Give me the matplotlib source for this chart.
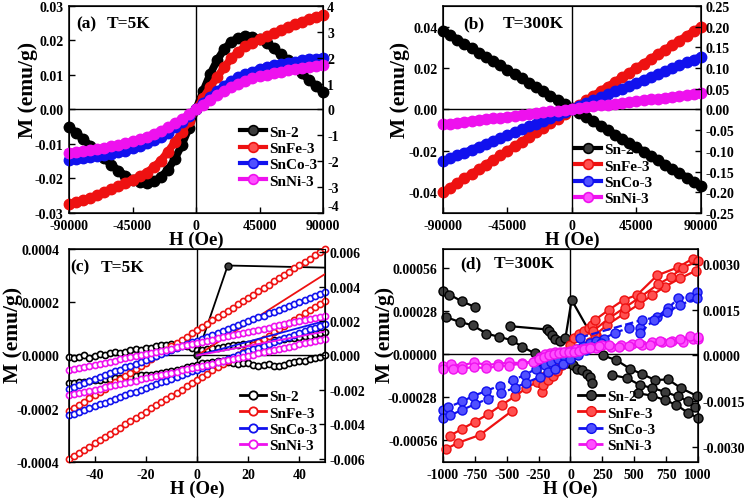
import numpy as np
import matplotlib.pyplot as plt
from matplotlib.lines import Line2D

plt.rcParams['font.family'] = ['Liberation Serif', 'DejaVu Serif']
plt.rcParams['font.weight'] = 'bold'
plt.rcParams['axes.unicode_minus'] = False

names = ['Sn-2', 'SnFe-3', 'SnCo-3', 'SnNi-3']
colors = ['#000000', '#ee1111', '#1111ee', '#ee11ee']
faces = ['#3c3c3c', '#ff5050', '#5050ff', '#ff50ff']

# (a) T=5K, M in 1e-3 emu/g, one value every 5000 Oe from -90000 to 90000
a_black = [-5.0, -6.8, -8.6, -10.5, -12.3, -14.2, -16.0, -17.7, -19.2, -20.3, -21.0, -21.2,
           -20.8, -19.6, -17.5, -14.3, -10.2, -5.3, 0.0, 5.3, 10.2, 14.3, 17.5, 19.6, 20.8,
           21.2, 21.0, 20.3, 19.2, 17.7, 16.0, 14.2, 12.3, 10.5, 8.6, 6.8, 5.0]
a_red = [-27.5, -26.9, -26.3, -25.6, -24.8, -24.0, -23.1, -22.2, -21.2, -20.3, -19.4, -18.3,
         -16.7, -14.8, -12.3, -9.4, -6.5, -3.3, 0.0, 3.3, 6.5, 9.4, 12.3, 14.8, 16.7, 18.3,
         19.4, 20.3, 21.2, 22.1, 23.0, 23.9, 24.7, 25.5, 26.2, 26.8, 27.4]
a_blue = [-14.6, -14.4, -14.2, -13.9, -13.6, -13.3, -12.9, -12.4, -11.9, -11.3, -10.6, -9.8,
          -8.9, -7.9, -6.7, -5.2, -3.6, -1.8, 0.0, 1.8, 3.6, 5.3, 6.8, 8.2, 9.3, 10.2, 11.0,
          11.7, 12.3, 12.8, 13.2, 13.6, 13.9, 14.2, 14.5, 14.7, 14.9]
a_mag = [-12.5, -12.3, -12.1, -11.8, -11.5, -11.1, -10.7, -10.3, -9.8, -9.2, -8.6, -7.9,
         -7.1, -6.2, -5.2, -4.0, -2.8, -1.4, 0.0, 1.4, 2.8, 4.1, 5.4, 6.5, 7.5, 8.3, 9.0,
         9.6, 10.1, 10.6, 11.0, 11.4, 11.8, 12.1, 12.4, 12.6, 12.8]

# (b) T=300K, same field steps
b_black = [38.0, 35.9, 33.8, 31.7, 29.6, 27.5, 25.4, 23.3, 21.3, 19.2, 17.1, 15.0, 12.9,
           10.8, 8.7, 6.7, 4.6, 2.5, 0.5, -1.6, -3.7, -5.8, -7.9, -10.0, -12.1, -14.1,
           -16.2, -18.3, -20.4, -22.5, -24.6, -26.7, -28.8, -30.8, -32.9, -35.0, -37.0]
b_red = [-40.0, -37.8, -35.6, -33.3, -31.1, -28.9, -26.7, -24.4, -22.2, -20.0, -17.8, -15.6,
         -13.3, -11.1, -8.9, -6.7, -4.4, -2.2, 0.0, 2.2, 4.4, 6.7, 8.9, 11.1, 13.3, 15.6,
         17.8, 20.0, 22.2, 24.4, 26.7, 28.9, 31.1, 33.3, 35.6, 37.8, 40.0]
b_blue = [-25.0, -23.6, -22.2, -20.8, -19.4, -18.0, -16.6, -15.2, -13.8, -12.4, -11.0, -9.6,
          -8.2, -6.8, -5.4, -4.0, -2.6, -1.2, 0.3, 1.7, 3.1, 4.5, 5.9, 7.3, 8.7, 10.1, 11.5,
          12.9, 14.3, 15.7, 17.1, 18.5, 19.9, 21.3, 22.7, 24.1, 25.5]
b_mag = [-7.2, -6.8, -6.4, -5.95, -5.5, -5.1, -4.7, -4.3, -3.9, -3.45, -3.0, -2.6, -2.2, -1.8,
         -1.4, -0.95, -0.5, -0.1, 0.3, 0.7, 1.1, 1.55, 2.0, 2.4, 2.8, 3.2, 3.6, 4.05, 4.5,
         4.9, 5.3, 5.7, 6.1, 6.55, 7.0, 7.4, 7.8]

# (c) T=5K low field loops, M in 1e-4 emu/g, one value every 2 Oe from -50 to 50
c_black_dn = [-0.05, -0.1, -0.05, 0.0, -0.08, -0.02, 0.05, 0.0, 0.1, 0.15, 0.1, 0.12, 0.2,
              0.25, 0.2, 0.3, 0.3, 0.35, 0.4, 0.38, 0.42, 0.4, 0.45, 0.35, 0.3, 0.2, 0.22,
              0.25, 0.28, 0.3, 0.33, 0.35, 0.38, 0.4, 0.42, 0.45, 0.47, 0.5, 0.52, 0.55,
              0.57, 0.6, 0.62, 0.65, 0.67, 0.7, 0.72, 0.75, 0.8, 0.85, 0.9]
c_black_up = [-1.04, -1.02, -1.0, -0.98, -0.96, -0.93, -0.92, -0.9, -0.88, -0.85, -0.83, -0.82,
              -0.8, -0.77, -0.75, -0.74, -0.72, -0.69, -0.66, -0.62, -0.58, -0.54, -0.5,
              -0.45, -0.4, -0.35, -0.3, -0.28, -0.25, -0.22, -0.2, -0.25, -0.3, -0.32, -0.28,
              -0.3, -0.35, -0.38, -0.35, -0.32, -0.38, -0.4, -0.35, -0.3, -0.25, -0.2, -0.22,
              -0.15, -0.1, -0.05, 0.0]
c_red_dn = [-2.10, -1.98, -1.86, -1.73, -1.61, -1.49, -1.37, -1.25, -1.12, -1.00, -0.88, -0.76,
            -0.64, -0.51, -0.39, -0.27, -0.15, -0.03, 0.10, 0.22, 0.34, 0.46, 0.58, 0.71, 0.83,
            0.95, 1.07, 1.19, 1.32, 1.44, 1.56, 1.68, 1.80, 1.93, 2.05, 2.17, 2.29, 2.41, 2.54,
            2.66, 2.78, 2.90, 3.02, 3.15, 3.27, 3.39, 3.51, 3.63, 3.76, 3.88, 4.00]
c_red_up = [-3.90, -3.78, -3.66, -3.54, -3.42, -3.30, -3.18, -3.07, -2.95, -2.83, -2.71, -2.59,
            -2.47, -2.35, -2.23, -2.11, -1.99, -1.87, -1.75, -1.64, -1.52, -1.40, -1.28, -1.16,
            -1.04, -0.92, -0.80, -0.68, -0.56, -0.44, -0.32, -0.21, -0.09, 0.03, 0.15, 0.27,
            0.39, 0.51, 0.63, 0.75, 0.87, 0.99, 1.11, 1.22, 1.34, 1.46, 1.58, 1.70, 1.82, 1.94,
            2.06]
c_blue_dn = [-1.25, -1.18, -1.11, -1.03, -0.96, -0.89, -0.82, -0.74, -0.67, -0.60, -0.53, -0.45,
             -0.38, -0.31, -0.24, -0.16, -0.09, -0.02, 0.05, 0.13, 0.20, 0.27, 0.34, 0.42, 0.49,
             0.56, 0.63, 0.71, 0.78, 0.85, 0.92, 1.00, 1.07, 1.14, 1.21, 1.29, 1.36, 1.43, 1.50,
             1.58, 1.65, 1.72, 1.79, 1.87, 1.94, 2.01, 2.08, 2.16, 2.23, 2.30, 2.37]
c_blue_up = [-2.25, -2.18, -2.11, -2.04, -1.97, -1.91, -1.84, -1.77, -1.70, -1.63, -1.56, -1.49,
             -1.42, -1.36, -1.29, -1.22, -1.15, -1.08, -1.01, -0.94, -0.87, -0.81, -0.74, -0.67,
             -0.60, -0.53, -0.46, -0.39, -0.32, -0.26, -0.19, -0.12, -0.05, 0.02, 0.09, 0.16,
             0.23, 0.29, 0.36, 0.43, 0.50, 0.57, 0.64, 0.71, 0.78, 0.84, 0.91, 0.98, 1.05, 1.12,
             1.19]
c_mag_dn = [-0.56, -0.52, -0.48, -0.44, -0.40, -0.35, -0.31, -0.27, -0.23, -0.19, -0.15, -0.11,
            -0.07, -0.02, 0.02, 0.06, 0.10, 0.14, 0.18, 0.22, 0.26, 0.31, 0.35, 0.39, 0.43, 0.47,
            0.51, 0.55, 0.59, 0.64, 0.68, 0.72, 0.76, 0.80, 0.84, 0.88, 0.92, 0.97, 1.01, 1.05,
            1.09, 1.13, 1.17, 1.21, 1.25, 1.30, 1.34, 1.38, 1.42, 1.46, 1.50]
c_mag_up = [-1.50, -1.46, -1.41, -1.37, -1.33, -1.29, -1.24, -1.20, -1.16, -1.12, -1.07, -1.03,
            -0.99, -0.95, -0.90, -0.86, -0.82, -0.78, -0.73, -0.69, -0.65, -0.61, -0.56, -0.52,
            -0.48, -0.44, -0.39, -0.35, -0.31, -0.26, -0.22, -0.18, -0.14, -0.09, -0.05, -0.01,
            0.03, 0.08, 0.12, 0.16, 0.20, 0.25, 0.29, 0.33, 0.37, 0.42, 0.46, 0.50, 0.54, 0.59,
            0.63]
# virgin curves (0 -> 50 Oe)
c_virgin_H = [[0, 12, 50], [0, 50], [0, 50], [0, 50]]
c_virgin_M = [[0.0, 3.38, 3.3], [0.0, 3.06], [0.0, 1.3], [0.0, 0.9]]

# (d) T=300K, +-1000 Oe, M in 1e-4 emu/g, measured pieces
d_H_black = [[-1000, -950, -850, -750],
             [-975, -870, -765, -660, -560, -460, -380, -280, -240, -232],
             [-475, -187, -165, -147, -120, -84, -39, 9, 255, 360, 465, 560, 665, 765, 870, 990],
             [-60, -30, 0, 22, 52, 91, 130, 157, 170],
             [323, 440, 545, 640, 740, 840, 920, 975],
             [530, 640, 745, 830, 920, 1000]]
d_M_black = [[4.05, 3.85, 3.4, 3.05],
             [2.38, 2.08, 1.85, 1.32, 1.11, 0.89, 0.47, 0.04, -0.2, -1.9],
             [1.8, 1.59, 1.5, 1.23, 0.95, 0.85, 1.06, 3.5, -0.1, -0.4, -0.95, -1.3, -1.69, -1.65, -2.23, -2.71],
             [-0.5, -0.6, -0.4, -0.74, -0.95, -1.06, -1.27, -1.48, -1.91],
             [-1.37, -1.55, -2.01, -2.2, -2.45, -2.75, -3.05, -3.45],
             [-2.55, -2.7, -3.0, -3.3, -3.8, -4.15]]
d_H_red = [[-975, -880, -710, -460],
           [-945, -850, -750, -645, -540, -435, -345, -260, -200, -150, -100, -50, 0, 50, 100, 150, 200],
           [-226, -213, -175, -140, -105, -70, -35, 0, 25, 64, 104, 143, 169, 194, 300, 416, 522, 680, 846, 960],
           [190, 290, 420, 540, 640, 738, 860, 982],
           [180, 300, 425, 550, 686, 790, 882, 1000]]
d_M_red = [[-6.15, -5.75, -5.25, -3.7],
           [-5.3, -4.85, -4.4, -3.9, -3.3, -2.75, -2.2, -1.8, -1.45, -1.15, -0.85, -0.55, -0.25, 0.1, 0.45, 0.8, 1.2],
           [-2.45, -2.0, -1.7, -1.4, -1.1, -0.7, -0.3, 0.6, 1.06, 1.27, 1.48, 1.69, 1.9, 2.22, 2.85, 3.5, 3.82, 5.09, 5.62, 6.18],
           [1.2, 1.9, 2.6, 3.23, 3.8, 4.35, 4.9, 5.39],
           [1.5, 2.3, 3.0, 3.7, 4.5, 5.0, 5.6, 6.0]]
d_H_blue = [[-1000, -960, -850, -765, -665, -555, -450, -360, -268, -200, -150, -100, -50, 0, 50, 100,
             150, 200, 260, 353, 458, 549],
            [-1000, -943, -850, -752, -647, -542, -438, -345, -242, -180, -120, -60, 0, 60, 120, 180, 240],
            [74, 560, 675, 767, 845, 936, 990],
            [549, 653, 761, 858, 990]]
d_M_blue = [[-3.6, -3.45, -3.08, -2.73, -2.41, -2.05, -1.72, -1.35, -0.97, -0.72, -0.52, -0.32, -0.12,
             0.1, 0.3, 0.5, 0.7, 0.85, 1.0, 1.38, 1.69, 1.69],
            [-4.15, -3.98, -3.62, -3.27, -2.9, -2.52, -2.2, -1.85, -1.5, -1.2, -0.95, -0.65, -0.35, -0.05,
             0.25, 0.45, 0.7],
            [1.06, 2.2, 2.38, 2.97, 3.6, 3.71, 4.03],
            [1.38, 2.2, 2.7, 3.18, 3.6]]
d_H_mag = [[-1000, -940, -850, -760, -660, -570, -480, -380, -280, -240, -200, -160, -120, -80, -40, 0,
            40, 80, 120, 160, 200, 250, 320, 400, 480, 560, 640, 720, 800, 880, 960, 1000],
           [-1000, -920, -850, -760, -660, -570, -480, -380, -290, -250, -210, -170, -130, -90, -50, -10,
            30, 70, 110, 150, 220, 300, 380, 460, 540, 620, 700, 780, 860, 940, 1000]]
d_M_mag = [[-0.8, -0.65, -0.75, -0.55, -0.7, -0.65, -0.55, -0.6, -0.45, -0.2, 0.0, 0.05, 0.1, 0.12, 0.15,
            0.2, 0.3, 0.35, 0.4, 0.45, 0.4, 0.55, 0.45, 0.6, 0.65, 0.55, 0.75, 0.8, 0.85, 0.8, 1.0, 0.95],
           [-1.0, -1.0, -0.95, -0.85, -0.93, -0.8, -0.75, -0.62, -0.55, -0.35, -0.2, -0.1, 0.0, 0.05, 0.1,
            0.1, 0.15, 0.2, 0.3, 0.4, 0.5, 0.55, 0.45, 0.5, 0.7, 0.6, 0.85, 0.75, 0.95, 1.15, 1.1]]

H_ab = np.arange(-90000, 90001, 5000)
H_c = np.arange(-50, 51, 2)

Plot = plt.figure(figsize=(7.46, 5.02), dpi=100)
ax_a = Plot.add_axes([0.0925, 0.5737, 0.3405, 0.4124])
ax_b = Plot.add_axes([0.5938, 0.5737, 0.3458, 0.4124])
ax_c = Plot.add_axes([0.0925, 0.0777, 0.3432, 0.4243])
ax_d = Plot.add_axes([0.5938, 0.0777, 0.3418, 0.4243])


def setup(Axis, xlim, xticks, xlabels, ylim, yticks, ylabels, rlim, rticks, rlabels, ylab_x, lpad):
    Axis.set_xlim(xlim)
    Axis.set_xticks(xticks)
    Axis.set_xticklabels(xlabels)
    Axis.set_ylim(ylim)
    Axis.set_yticks(yticks)
    Axis.set_yticklabels(ylabels)
    Axis.tick_params(direction='in', length=4, width=1, labelsize=10, pad=4)
    Axis.tick_params(axis='y', pad=lpad)
    Axis.axhline(0, color='k', lw=1, zorder=1)
    Axis.axvline(0, color='k', lw=1, zorder=1)
    for s in Axis.spines.values():
        s.set_linewidth(1.1)
    Axis.set_xlabel('H (Oe)', fontsize=13.5, fontweight='bold')
    Axis.set_ylabel('M (emu/g)', fontsize=15.5, fontweight='bold')
    Axis.xaxis.set_label_coords(0.5, -0.085)
    Axis.yaxis.set_label_coords(ylab_x, 0.6)
    Right = Axis.twinx()
    Right.set_ylim(rlim)
    Right.set_yticks(rticks)
    Right.set_yticklabels(rlabels)
    Right.tick_params(direction='in', length=4, width=1, labelsize=10, pad=3)
    return Right


def legend(Axis, x, y, style):
    handles = []
    for i in range(4):
        handles.append(Line2D([], [], color=colors[i], mec=colors[i], **style[i]))
    Axis.legend(handles, names, loc='upper left', bbox_to_anchor=(x, y), frameon=False,
                prop={'size': 11, 'weight': 'bold'}, handlelength=1.7, handletextpad=0.2,
                labelspacing=0.17, borderpad=0, borderaxespad=0)


# top panels: dense markers form thick tubes
tube = [dict(lw=5.5, marker='o', ms=7.5, mew=1, mfc=colors[i]) for i in range(4)]
for i, m in enumerate([a_black, a_red, a_blue, a_mag]):
    ax_a.plot(H_ab, np.array(m) * 1e-3, color=colors[i], mec=colors[i], clip_on=False, zorder=3 + i, **tube[i])
for i, m in enumerate([b_black, b_red, b_blue, b_mag]):
    ax_b.plot(H_ab, np.array(m) * 1e-3, color=colors[i], mec=colors[i], clip_on=False, zorder=3 + i, **tube[i])

right_a = setup(ax_a, (-90000, 90000), [-90000, -45000, 0, 45000, 90000],
                ['-90000', '-45000', '0', '45000', '90000'],
                (-0.03, 0.03), np.arange(-0.03, 0.031, 0.01),
                ['-0.03', '-0.02', '-0.01', '0.00', '0.01', '0.02', '0.03'],
                (-4, 4), np.arange(-4, 5), [str(v) for v in range(-4, 5)], -0.122, 4)
# lift the bottom right label off the 90000 tick label
right_a.get_yticklabels()[0].set_va('bottom')
setup(ax_b, (-90000, 90000), [-90000, -45000, 0, 45000, 90000],
      ['-90000', '-45000', '0', '45000', '90000'],
      (-0.05, 0.05), [-0.04, -0.02, 0, 0.02, 0.04],
      ['-0.04', '-0.02', '0.00', '0.02', '0.04'],
      (-0.25, 0.25), np.arange(-0.25, 0.26, 0.05),
      ['-0.25', '-0.20', '-0.15', '-0.10', '-0.05', '0.00', '0.05', '0.10', '0.15', '0.20', '0.25'],
      -0.128, 4)

leg_tube = [dict(lw=3, marker='o', ms=7, mew=1.2, mfc=faces[i]) for i in range(4)]
legend(ax_a, 0.673, 0.425, leg_tube)
legend(ax_b, 0.512, 0.34, leg_tube)

# (c) loops
ring = [dict(lw=1, marker='o', ms=4.4, mew=1.2, mfc='white') for i in range(4)]
c_dn = [c_black_dn, c_red_dn, c_blue_dn, c_mag_dn]
c_up = [c_black_up, c_red_up, c_blue_up, c_mag_up]
for i in range(4):
    ax_c.plot(H_c, np.array(c_dn[i]) * 1e-4, color=colors[i], mec=colors[i], clip_on=False, zorder=3 + i, **ring[i])
    ax_c.plot(H_c, np.array(c_up[i]) * 1e-4, color=colors[i], mec=colors[i], clip_on=False, zorder=3 + i, **ring[i])
    ax_c.plot(c_virgin_H[i], np.array(c_virgin_M[i]) * 1e-4, color=colors[i], lw=1.3, zorder=3 + i,
              marker='o', ms=5, mec=colors[i], mfc=faces[i], markevery=[0, 1] if i == 0 else [])

setup(ax_c, (-50, 50), [-40, -20, 0, 20, 40], ['-40', '-20', '0', '20', '40'],
      (-0.0004, 0.0004), [-0.0004, -0.0002, 0, 0.0002, 0.0004],
      ['-0.0004', '-0.0002', '0.0000', '0.0002', '0.0004'],
      (-0.0062, 0.0062), [-0.006, -0.004, -0.002, 0, 0.002, 0.004, 0.006],
      ['-0.006', '-0.004', '-0.002', '0.000', '0.002', '0.004', '0.006'], -0.178, 7)
legend(ax_c, 0.668, 0.34, [dict(lw=2, marker='o', ms=6, mew=1.3, mfc='white') for i in range(4)])

# (d) loops
ball = [dict(lw=1.6, ls='-' if i < 2 else '--', marker='o', ms=6.5, mew=1, mfc=faces[i]) for i in range(4)]
d_H = [d_H_black, d_H_red, d_H_blue, d_H_mag]
d_M = [d_M_black, d_M_red, d_M_blue, d_M_mag]
for i in [3, 2, 1, 0]:
    for h, m in zip(d_H[i], d_M[i]):
        ax_d.plot(h, np.array(m) * 1e-4, color=colors[i], mec=colors[i], clip_on=False, zorder=3 + i, **ball[i])

setup(ax_d, (-1000, 1000), np.arange(-1000, 1001, 250),
      ['-1000', '-750', '-500', '-250', '0', '250', '500', '750', '1000'],
      (-0.0007, 0.00068), [-0.00056, -0.00028, 0, 0.00028, 0.00056],
      ['-0.00056', '-0.00028', '0.00000', '0.00028', '0.00056'],
      (-0.0035, 0.0035), [-0.003, -0.0015, 0, 0.0015, 0.003],
      ['-0.0030', '-0.0015', '0.0000', '0.0015', '0.0030'], -0.19, 4)
legend(ax_d, 0.529, 0.34, [dict(lw=2, ls='-' if i < 2 else '--', marker='o', ms=7, mew=1, mfc=faces[i]) for i in range(4)])

# panel tags
for Axis, tag, temp, xt, xT, yb in [(ax_a, '(a)', 'T=5K', 0.028, 0.15, 0.897),
                                    (ax_b, '(b)', 'T=300K', 0.078, 0.233, 0.897),
                                    (ax_c, '(c)', 'T=5K', 0.004, 0.125, 0.898),
                                    (ax_d, '(d)', 'T=300K', 0.067, 0.197, 0.914)]:
    Axis.text(xt, yb, tag, transform=Axis.transAxes, fontsize=12.5, fontweight='bold', va='baseline', zorder=10)
    Axis.text(xT, yb, temp, transform=Axis.transAxes, fontsize=12.5, fontweight='bold', va='baseline', zorder=10)

Plot.savefig('out.png', dpi=100)
